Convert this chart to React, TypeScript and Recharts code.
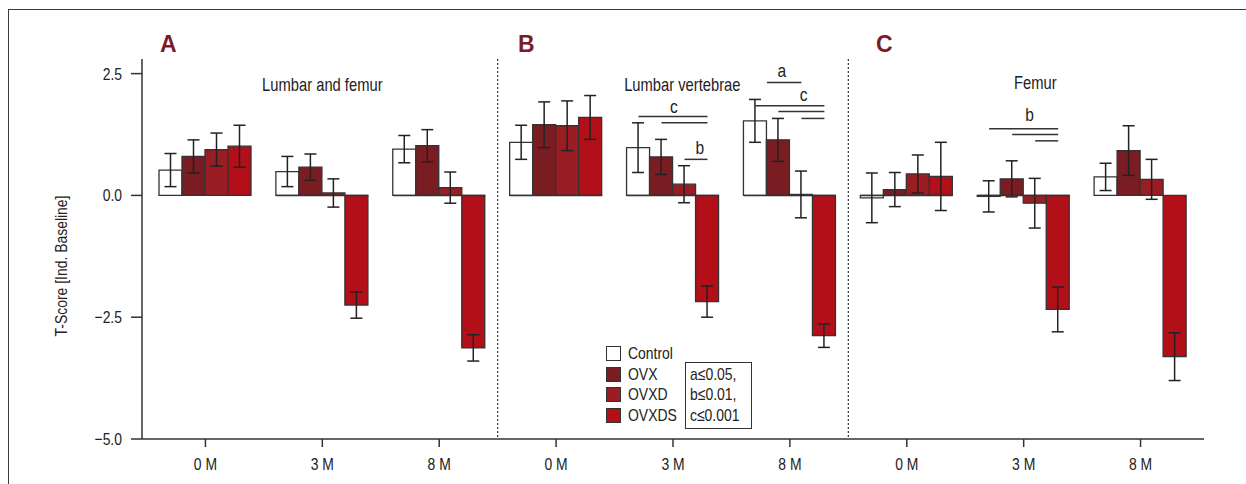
import React from "react";
import {
  BarChart,
  Bar,
  XAxis,
  YAxis,
  ErrorBar,
  ReferenceLine,
  ReferenceDot,
  Legend,
} from "recharts";

const categories = ["0 M", "3 M", "8 M", "0 M", "3 M", "8 M", "0 M", "3 M", "8 M"];
const control = [0.52, 0.49, 0.95, 1.09, 0.98, 1.53, -0.05, -0.02, 0.38];
const controlErr = [0.34, 0.31, 0.28, 0.35, 0.51, 0.44, 0.51, 0.32, 0.28];
const ovx = [0.8, 0.58, 1.02, 1.45, 0.79, 1.14, 0.12, 0.34, 0.92];
const ovxErr = [0.34, 0.27, 0.33, 0.47, 0.36, 0.44, 0.35, 0.37, 0.51];
const ovxd = [0.94, 0.05, 0.16, 1.43, 0.23, 0.02, 0.44, -0.16, 0.33];
const ovxdErr = [0.34, 0.29, 0.32, 0.51, 0.38, 0.48, 0.39, 0.51, 0.41];
const ovxds = [1.01, -2.25, -3.13, 1.6, -2.18, -2.88, 0.39, -2.34, -3.31];
const ovxdsErr = [0.43, 0.27, 0.27, 0.45, 0.32, 0.24, 0.7, 0.46, 0.49];

const yTicks = [-5, -2.5, 0, 2.5];
const panelTitles = [
  { cat: 1, shift: 0, y: 2.14, text: "Lumbar and femur" },
  { cat: 4, shift: 0.08, y: 2.15, text: "Lumbar vertebrae" },
  { cat: 7, shift: 0.1, y: 2.19, text: "Femur" },
];
const panelLetters = [
  { x: 160, text: "A" },
  { x: 518, text: "B" },
  { x: 876, text: "C" },
];
// significance brackets: bar index from -> to (0 = Control ... 3 = OVXDS)
const sigLines = [
  { cat: 4, from: 0, to: 3, y: 1.62 },
  { cat: 4, from: 1, to: 3, y: 1.49 },
  { cat: 4, from: 2, to: 3, y: 0.74 },
  { cat: 5, from: 0.5, to: 2, y: 2.32 },
  { cat: 5, from: 0, to: 3, y: 1.84 },
  { cat: 5, from: 1, to: 3, y: 1.72 },
  { cat: 5, from: 2, to: 3, y: 1.58 },
  { cat: 7, from: 0, to: 3, y: 1.37 },
  { cat: 7, from: 1, to: 3, y: 1.25 },
  { cat: 7, from: 2, to: 3, y: 1.12 },
  { cat: 8, from: 0, to: 3, y: 1.36 },
  { cat: 8, from: 1, to: 3, y: 1.23 },
  { cat: 8, from: 2, to: 3, y: 1.1 },
];
const sigLetters = [
  { cat: 4, at: 1.54, y: 1.7, text: "c" },
  { cat: 4, at: 2.67, y: 0.84, text: "b" },
  { cat: 5, at: 1.15, y: 2.44, text: "a" },
  { cat: 5, at: 2.1, y: 1.93, text: "c" },
  { cat: 7, at: 1.76, y: 1.52, text: "b" },
  { cat: 8, at: 2.15, y: 1.45, text: "c" },
];
const pValues = ["a≤0.05,", "b≤0.01,", "c≤0.001"];

// no condensed font installed: squeeze Liberation Sans to narrow proportions
const FONT = "'Liberation Sans', Arial, sans-serif";
const SX = 0.82;
const INK = "#333";
const TXT = "#222";
const W = 1246;
const H = 484;
const margin = { top: 59, right: 42, bottom: 0, left: 0 };
const BAR = 23;
const PAD = 5;
const band = (W - 142 - margin.right - 2 * PAD) / categories.length;
const barX = (cat: number, i: number) => cat + ((i - 1.5) * BAR) / band;

const data = categories.map((c, i) => ({
  idx: i,
  label: c,
  control: control[i],
  controlErr: controlErr[i],
  ovx: ovx[i],
  ovxErr: ovxErr[i],
  ovxd: ovxd[i],
  ovxdErr: ovxdErr[i],
  ovxds: ovxds[i],
  ovxdsErr: ovxdsErr[i],
}));

const fmt = (v: number) => v.toFixed(1).replace("-", "\u2212");

function NText({ x, y, anchor = "middle", size = 17, rotate = 0, dy = 0, children }: any) {
  return (
    <text
      transform={`translate(${x},${y})${rotate ? ` rotate(${rotate})` : ""} scale(${SX},1)`}
      x={0}
      y={0}
      dy={dy}
      textAnchor={anchor}
      fontSize={size}
      fontFamily={FONT}
      fill={TXT}
    >
      {children}
    </text>
  );
}

const XTick = (p: any) => (
  <NText x={p.x} y={p.y} dy="0.71em" size={17}>
    {categories[p.payload.value]}
  </NText>
);
const YTick = (p: any) => (
  <NText x={p.x} y={p.y} dy="0.355em" anchor="end" size={17}>
    {fmt(p.payload.value)}
  </NText>
);

const narrow: React.CSSProperties = {
  display: "inline-block",
  transform: `scaleX(${SX})`,
  transformOrigin: "left center",
  whiteSpace: "nowrap",
};

function LegendBox(props: any) {
  const items = props.payload || [];
  return (
    <div style={{ position: "relative", width: 160, height: 86, fontFamily: FONT, fontSize: 17, color: TXT }}>
      {items.map((it: any, i: number) => (
        <div key={it.value} style={{ position: "absolute", left: 0, top: i * 20.7, height: 15, display: "flex", alignItems: "center" }}>
          <div style={{ width: 15, height: 15, boxSizing: "border-box", border: `1.5px solid ${INK}`, background: it.color }} />
          <span style={{ ...narrow, marginLeft: 7, lineHeight: "15px" }}>{it.value}</span>
        </div>
      ))}
      <div
        style={{
          position: "absolute",
          left: 79,
          top: 16,
          width: 67,
          height: 67,
          boxSizing: "border-box",
          border: `1.5px solid ${INK}`,
          padding: "2px 0 0 4px",
          lineHeight: "20.4px",
        }}
      >
        {pValues.map((p) => (
          <div key={p}>
            <span style={narrow}>{p}</span>
          </div>
        ))}
      </div>
    </div>
  );
}

export default function App() {
  return (
    <div style={{ position: "fixed", left: 0, top: 0, width: W, height: H, background: "#fff", overflow: "hidden" }}>
      <div
        style={{
          position: "absolute",
          left: 8,
          top: 9,
          width: W,
          height: H,
          borderTop: "1px solid #3a3a3a",
          borderLeft: "1px solid #3a3a3a",
        }}
      />
      <div style={{ position: "absolute", left: 0, top: 0 }}>
        <BarChart width={W} height={H} data={data} margin={margin} barSize={BAR} barGap={0}>
          <XAxis
            dataKey="idx"
            type="category"
            padding={{ left: PAD, right: PAD }}
            height={45}
            tickSize={8}
            tickMargin={11}
            axisLine={{ stroke: INK, strokeWidth: 1.5 }}
            tickLine={{ stroke: INK, strokeWidth: 1.5 }}
            tick={XTick}
            interval={0}
          />
          <XAxis
            xAxisId="n"
            orientation="top"
            type="number"
            domain={[0, 8]}
            allowDataOverflow
            padding={{ left: PAD + band / 2, right: PAD + band / 2 }}
            height={0}
            tick={false}
            tickLine={false}
            axisLine={{ stroke: INK, strokeWidth: 1.5 }}
          />
          <YAxis
            domain={[-5, 2.8]}
            ticks={yTicks}
            allowDataOverflow
            width={142}
            tickSize={11}
            tickMargin={9}
            axisLine={{ stroke: INK, strokeWidth: 1.5 }}
            tickLine={{ stroke: INK, strokeWidth: 1.5 }}
            tick={YTick}
            label={(p: any) => {
              const vb = p.viewBox || { x: 0, y: 59, height: 380 };
              return (
                <NText x={vb.x + 66.7} y={vb.y + vb.height / 2 + 17} rotate={-90} size={17}>
                  T-Score [Ind. Baseline]
                </NText>
              );
            }}
          />
          <YAxis
            yAxisId="r"
            orientation="right"
            domain={[-5, 2.8]}
            width={0}
            tick={false}
            tickLine={false}
            axisLine={{ stroke: INK, strokeWidth: 1.5 }}
          />
          <Legend
            layout="vertical"
            align="center"
            verticalAlign="middle"
            content={<LegendBox />}
            wrapperStyle={{ left: 606, top: 346, width: 160, height: 86 }}
          />
          {categories.map((_, c) => (
            <ReferenceLine
              key={`z${c}`}
              xAxisId="n"
              segment={[
                { x: barX(c, -0.5), y: 0 },
                { x: barX(c, 3.5), y: 0 },
              ]}
              stroke={INK}
              strokeWidth={1.5}
            />
          ))}
          <Bar dataKey="control" name="Control" fill="#ffffff" stroke={INK} strokeWidth={1.3} isAnimationActive={false}>
            <ErrorBar dataKey="controlErr" width={6} stroke={TXT} strokeWidth={1.5} />
          </Bar>
          <Bar dataKey="ovx" name="OVX" fill="#7a1d23" stroke={INK} strokeWidth={1.3} isAnimationActive={false}>
            <ErrorBar dataKey="ovxErr" width={6} stroke={TXT} strokeWidth={1.5} />
          </Bar>
          <Bar dataKey="ovxd" name="OVXD" fill="#9a1d23" stroke={INK} strokeWidth={1.3} isAnimationActive={false}>
            <ErrorBar dataKey="ovxdErr" width={6} stroke={TXT} strokeWidth={1.5} />
          </Bar>
          <Bar dataKey="ovxds" name="OVXDS" fill="#b30f19" stroke={INK} strokeWidth={1.3} isAnimationActive={false}>
            <ErrorBar dataKey="ovxdsErr" width={6} stroke={TXT} strokeWidth={1.5} />
          </Bar>
          <ReferenceLine xAxisId="n" x={2.5} stroke={INK} strokeWidth={1.2} strokeDasharray="2 2" />
          <ReferenceLine xAxisId="n" x={5.5} stroke={INK} strokeWidth={1.2} strokeDasharray="2 2" />
          {sigLines.map((s, i) => (
            <ReferenceLine
              key={`s${i}`}
              xAxisId="n"
              segment={[
                { x: barX(s.cat, s.from), y: s.y },
                { x: barX(s.cat, s.to), y: s.y },
              ]}
              stroke={INK}
              strokeWidth={1.5}
            />
          ))}
          {sigLetters.map((s, i) => (
            <ReferenceDot
              key={`l${i}`}
              xAxisId="n"
              x={barX(s.cat, s.at)}
              y={s.y}
              r={0}
              shape={(p: any) => (
                <NText x={p.cx} y={p.cy} size={19}>
                  {s.text}
                </NText>
              )}
            />
          ))}
          {panelTitles.map((t) => (
            <ReferenceDot
              key={t.text}
              xAxisId="n"
              x={t.cat + t.shift}
              y={t.y}
              r={0}
              shape={(p: any) => (
                <NText x={p.cx} y={p.cy} size={18}>
                  {t.text}
                </NText>
              )}
            />
          ))}
        </BarChart>
      </div>
      <svg width={W} height={60} style={{ position: "absolute", left: 0, top: 0, pointerEvents: "none" }}>
        {panelLetters.map((l) => (
          <text key={l.text} x={l.x} y={51.7} fontSize={23} fontWeight="bold" fontFamily={FONT} fill="#7b1c24">
            {l.text}
          </text>
        ))}
      </svg>
    </div>
  );
}
